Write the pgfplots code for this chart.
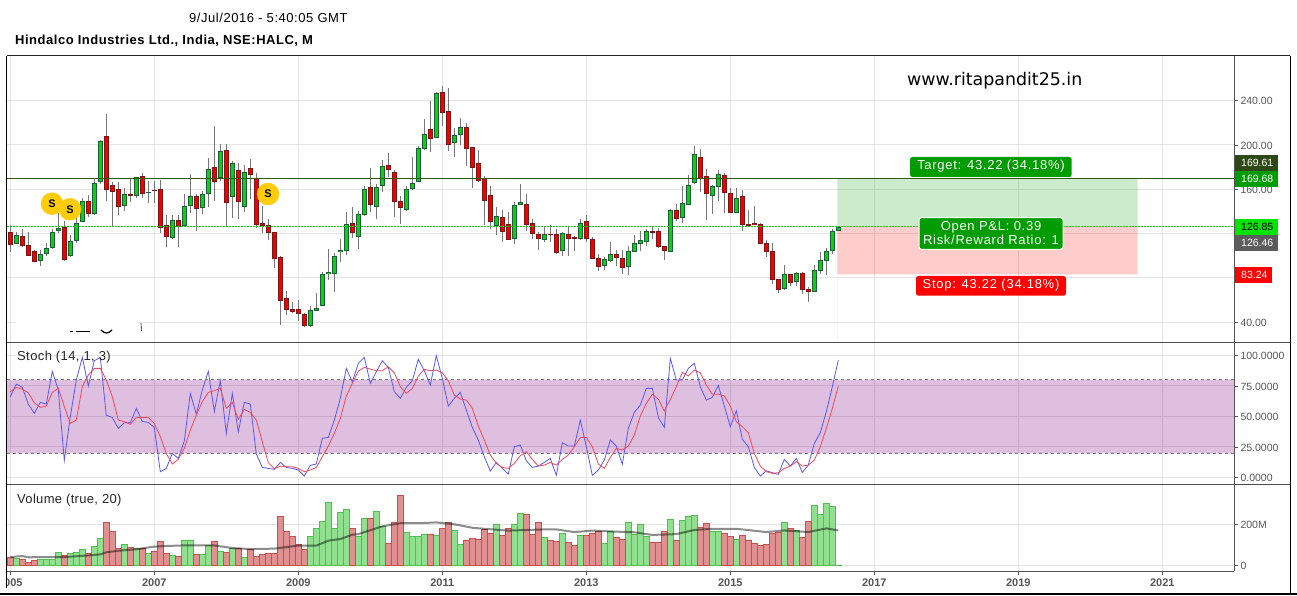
\documentclass[border=0pt]{standalone}
\usepackage{fontspec}
\setmainfont{Liberation Sans}
\newfontfamily\webfont{DejaVu Sans}
\usepackage{pgfplots}
\usepackage{pgfplotstable}
\pgfplotsset{compat=1.18}

\definecolor{gridc}{HTML}{E4E4E4}
\definecolor{tickc}{HTML}{555555}
\definecolor{wickc}{HTML}{777777}
\definecolor{upfill}{HTML}{0CD00C}
\definecolor{upedge}{HTML}{1C5E3C}
\definecolor{downfill}{HTML}{F00000}
\definecolor{downedge}{HTML}{7A1616}
\definecolor{tgreen}{HTML}{2F5A00}
\definecolor{boxgreen}{HTML}{009C00}
\definecolor{volup}{HTML}{90E090}
\definecolor{volupedge}{HTML}{4CC24C}
\definecolor{voldown}{HTML}{E09090}
\definecolor{voldownedge}{HTML}{CF4C4C}
\definecolor{tagdark}{HTML}{2D4A16}
\definecolor{tagbright}{HTML}{00E400}
\definecolor{taggrey}{HTML}{5C5C5C}
\definecolor{bandc}{HTML}{800080}
\definecolor{gold}{HTML}{FFCC0A}
\definecolor{stochblue}{HTML}{5858F4}
\definecolor{stochred}{HTML}{F2475A}

% monthly candles, i = months since Jan 2005
\pgfplotstableread{
i o h l c
1 111.3 121.2 110.7 118.5
5 95.9 105.2 91.1 101.3
6 102.2 111.6 100.1 106.7
7 107.6 124.2 105.8 121.2
8 123.0 138.3 120.9 124.8
10 100.4 118.8 99.2 113.1
11 114.0 135.3 111.9 129.3
12 131.1 151.9 130.5 149.2
14 138.3 169.9 136.8 165.4
15 167.2 204.5 164.8 203.3
19 145.5 160.9 140.7 155.5
21 154.6 171.4 152.2 170.8
23 157.0 167.2 147.4 157.3
27 116.7 136.8 114.9 132.0
29 127.5 155.5 126.9 144.6
30 145.5 173.8 138.9 153.7
32 143.7 158.5 137.7 155.5
33 156.4 188.3 144.3 178.0
35 170.8 200.9 167.8 194.3
37 153.7 185.6 133.8 183.4
39 144.6 181.6 139.8 175.3
50 37.3 54.7 36.1 50.8
51 50.8 66.1 50.5 52.6
52 55.3 85.1 54.7 83.3
53 83.9 105.8 78.2 85.1
54 84.2 102.8 67.3 99.5
55 103.7 114.9 94.7 105.0
56 105.0 139.2 100.7 128.4
58 117.6 140.4 106.1 137.4
59 137.4 163.0 135.9 160.0
61 144.6 164.8 133.5 161.8
62 163.6 186.5 157.9 180.7
66 141.9 163.0 140.7 160.0
67 160.9 189.2 159.4 165.4
68 167.2 199.1 166.9 197.0
69 197.0 223.5 195.5 209.6
71 206.9 247.8 206.6 246.6
74 202.4 215.0 189.5 208.7
75 209.6 224.1 200.3 215.9
81 127.2 144.0 118.8 135.6
84 115.8 148.3 110.7 145.5
85 146.4 164.8 146.1 148.3
89 114.9 126.6 112.5 119.4
92 105.0 121.2 99.8 120.3
95 115.8 133.2 114.3 129.3
99 91.4 99.2 87.2 96.8
100 95.9 112.5 94.4 101.3
103 90.4 108.8 82.6 104.0
104 104.0 118.4 103.4 111.2
105 111.2 122.0 104.6 113.9
106 113.0 124.1 108.8 122.0
110 104.0 141.9 103.7 141.0
112 134.7 162.9 129.9 147.3
113 146.4 172.6 146.1 163.5
114 166.2 199.0 165.0 191.5
117 154.5 163.5 137.7 162.6
118 162.6 177.1 149.4 173.5
121 139.2 160.8 138.9 151.8
129 70.6 91.6 69.1 83.2
131 76.9 85.0 72.7 84.1
134 67.9 91.3 67.6 86.8
135 86.8 103.4 83.8 95.9
136 95.9 106.7 82.6 104.0
137 104.9 124.1 101.6 122.0
138 122.9 126.8 122.3 125.9
}\upcandles

\pgfplotstableread{
i o h l c
0 121.2 127.8 103.7 110.4
2 117.6 124.2 108.3 109.2
3 109.5 121.2 99.8 100.4
4 104.0 105.2 94.4 95.0
9 125.7 131.1 95.6 96.8
13 149.2 154.9 135.3 138.3
16 207.8 228.0 149.8 160.0
17 163.6 166.9 125.7 158.2
18 160.0 166.9 136.8 144.6
20 155.5 169.9 148.9 154.6
22 171.7 174.4 152.5 156.4
24 159.1 167.8 148.0 158.8
25 160.0 168.4 120.9 125.7
26 127.5 136.8 108.3 117.6
28 132.0 136.8 108.3 126.6
31 153.7 155.5 122.7 142.8
34 179.8 217.1 149.8 167.2
36 195.2 200.9 126.3 148.3
38 177.1 183.4 133.5 149.2
40 178.9 187.4 151.0 173.5
41 169.9 174.4 125.4 128.4
42 129.3 144.9 120.3 127.5
43 127.5 133.2 114.3 121.2
44 121.2 121.2 89.0 97.7
45 98.6 99.8 37.9 59.8
46 61.6 68.2 46.6 51.7
47 51.7 58.3 48.1 49.9
48 51.7 60.1 41.5 48.1
49 47.2 48.7 36.1 37.3
57 129.3 144.0 116.4 121.2
60 161.8 179.2 139.5 146.4
63 181.6 192.8 170.8 178.0
64 175.3 177.1 135.3 149.2
65 149.2 154.0 128.7 143.7
70 214.1 239.7 193.7 206.0
72 247.5 253.2 217.1 229.5
73 230.4 251.4 194.9 200.6
76 215.9 219.8 181.0 197.0
77 197.9 197.9 161.2 179.8
78 183.4 195.5 166.6 168.1
79 169.9 171.7 127.8 150.1
80 154.6 163.0 124.2 131.1
82 134.7 141.0 112.5 122.1
83 128.4 139.2 114.3 114.9
86 146.4 155.5 122.4 128.4
87 129.3 133.2 115.2 120.3
88 119.4 121.2 105.2 115.8
90 119.4 127.8 112.5 119.1
91 119.4 124.2 101.6 102.8
93 119.4 126.6 99.8 115.8
94 116.1 117.6 104.6 115.5
96 131.1 136.8 112.8 115.8
97 114.9 116.7 97.4 97.7
98 97.7 101.6 86.3 90.5
101 101.3 105.2 90.8 98.6
102 97.7 105.2 83.5 89.5
107 122.0 125.9 115.1 121.7
108 122.0 124.7 106.7 108.5
109 108.5 108.5 96.2 104.9
111 141.0 146.7 131.7 133.8
115 188.8 196.3 157.5 169.9
116 171.7 178.0 132.3 156.3
119 172.6 174.4 138.6 157.2
120 156.3 160.8 138.6 139.2
122 153.6 159.3 122.3 128.3
123 128.3 141.3 126.8 127.4
124 129.2 144.9 127.4 128.0
125 128.3 129.2 110.6 111.2
126 111.2 113.9 99.2 104.0
127 104.0 111.5 74.5 78.7
128 78.7 78.7 66.7 69.7
130 83.2 83.2 72.7 76.0
132 84.1 85.0 65.5 69.7
133 69.7 71.5 58.3 67.9
}\downcandles

% candle pieces drawn as thick error bars
\newcommand{\wicks}[1]{%
  \addplot[draw=none, mark=none, forget plot, error bars/.cd, y dir=both, y explicit, error mark=none,
    error bar style={draw=wickc, line width=1pt}]
    table[x=i, y expr={(\thisrow{h}+\thisrow{l})/2}, y error expr={(\thisrow{h}-\thisrow{l})/2}] {#1};}
\newcommand{\bodies}[3]{%
  \addplot[draw=none, mark=none, forget plot, error bars/.cd, y dir=both, y explicit, error mark=none,
    error bar style={draw=#2, line width=5pt}]
    table[x=i, y expr={(\thisrow{o}+\thisrow{c})/2}, y error expr={abs(\thisrow{o}-\thisrow{c})/2+0.5}] {#1};
  \addplot[draw=none, mark=none, forget plot, error bars/.cd, y dir=both, y explicit, error mark=none,
    error bar style={draw=#3, line width=3pt}]
    table[x=i, y expr={(\thisrow{o}+\thisrow{c})/2}, y error expr={max(abs(\thisrow{o}-\thisrow{c})/2-0.5,0)}] {#1};}

\pgfplotsset{panel/.style={
  scale only axis, width=1227pt,
  xmin=-0.55, xmax=203.95,
  anchor=south west,
  axis line style={draw=none},
  xtick={0,24,...,192},
  xticklabels={},
  xmajorgrids, ymajorgrids,
  grid style={gridc, line width=1pt},
  tick align=outside,
  ytick pos=right,
  xtick pos=bottom,
  major tick length=4pt,
  ytick style={draw=tickc, line width=0.8pt},
  xtick style={draw=none},
  yticklabel style={font=\fontsize{10.5}{12}\selectfont, text=tickc, anchor=west, xshift=-1pt, yshift=-0.5pt},
  xticklabel style={font=\bfseries\fontsize{11}{13}\selectfont, text=tickc},
}}

\begin{document}
\begin{tikzpicture}
\useasboundingbox (0,0) rectangle (1297pt,595pt);

% price panel
\begin{axis}[panel, at={(7pt,253pt)}, height=286pt,
  ymin=22.2, ymax=280.3,
  ytick={40,80,120,160,200,240},
  yticklabels={40.00,,,160.00,200.00,240.00}]
\addplot[fill=green!60!black, fill opacity=0.2, draw=none, forget plot] coordinates {(137.83,126.85)(187.9,126.85)(187.9,169.68)(137.83,169.68)} \closedcycle;
\addplot[fill=red, fill opacity=0.2, draw=none, forget plot] coordinates {(137.83,83.24)(187.9,83.24)(187.9,126.85)(137.83,126.85)} \closedcycle;
\wicks{\upcandles}
\wicks{\downcandles}
\bodies{\upcandles}{upedge}{upfill}
\bodies{\downcandles}{downedge}{downfill}
\addplot[tgreen, line width=1.2pt, forget plot] coordinates {(-0.55,169.68)(203.95,169.68)};
\addplot[green!85!black, line width=1pt, dash pattern=on 2pt off 1pt, forget plot] coordinates {(-0.55,126.85)(203.95,126.85)};
\addplot[only marks, mark=*, mark size=11pt, mark options={fill=gold, draw=gold},
  point meta=explicit symbolic, nodes near coords,
  every node near coord/.style={anchor=center, font=\bfseries\fontsize{11}{12}\selectfont, text=black},
  forget plot] coordinates {(6.95,147.0)[S](9.95,142.0)[S](42.95,155.8)[S]};
\end{axis}

% stochastic panel
\begin{axis}[panel, at={(7pt,110.5pt)}, height=142.5pt,
  ymin=-5.8, ymax=111,
  ytick={0,25,50,75,100},
  yticklabels={0.0000,25.0000,50.0000,75.0000,100.0000}]
\addplot[fill=bandc, fill opacity=0.25, draw=none, forget plot] coordinates {(-0.55,20)(203.95,20)(203.95,80)(-0.55,80)} \closedcycle;
\addplot[black!55, line width=0.8pt, dashed, forget plot] coordinates {(-0.55,80)(203.95,80)};
\addplot[black!55, line width=0.8pt, dashed, forget plot] coordinates {(-0.55,20)(203.95,20)};
\addplot[stochblue, line width=0.8pt, forget plot] coordinates {
(0,66.2)(1,76.5)(2,73.8)(3,60.1)(4,52.5)(5,61.5)(6,60.1)(7,86.9)(8,71.6)(9,14.0)
(10,49.8)(11,79.8)(12,98.4)(13,74.9)(14,95.7)(15,98.4)(16,50.9)(17,49.2)(18,40.2)(19,44.8)
(20,44.8)(21,56.6)(22,45.9)(23,45.1)(24,41.0)(25,4.7)(26,7.4)(27,19.7)(28,15.6)(29,29.8)
(30,68.9)(31,51.9)(32,71.6)(33,86.9)(34,53.9)(35,79.3)(36,36.1)(37,68.9)(38,37.5)(39,61.5)
(40,60.1)(41,19.2)(42,8.2)(43,7.4)(44,6.6)(45,12.3)(46,8.2)(47,7.4)(48,6.1)(49,1.1)
(50,9.9)(51,11.0)(52,32.0)(53,32.8)(54,47.0)(55,64.8)(56,89.4)(57,78.4)(58,93.5)(59,98.4)
(60,77.1)(61,86.6)(62,95.7)(63,90.2)(64,70.3)(65,64.8)(66,73.8)(67,79.3)(68,96.8)(69,87.5)
(70,75.7)(71,99.8)(72,81.2)(73,58.5)(74,64.8)(75,69.7)(76,55.2)(77,41.0)(78,30.6)(79,17.0)
(80,5.2)(81,12.3)(82,7.4)(83,2.8)(84,25.2)(85,26.5)(86,13.7)(87,8.2)(88,9.3)(89,12.3)
(90,15.6)(91,1.7)(92,28.5)(93,25.7)(94,25.7)(95,47.0)(96,25.2)(97,1.7)(98,6.1)(99,14.2)
(100,30.6)(101,25.7)(102,10.7)(103,40.2)(104,53.3)(105,59.3)(106,73.0)(107,73.0)(108,49.2)(109,41.0)
(110,97.6)(111,79.8)(112,79.8)(113,89.4)(114,93.5)(115,74.4)(116,63.4)(117,65.6)(118,75.4)(119,58.5)
(120,41.6)(121,54.7)(122,31.2)(123,25.2)(124,8.2)(125,1.1)(126,5.5)(127,3.9)(128,2.5)(129,14.8)
(130,9.3)(131,15.6)(132,4.1)(133,10.2)(134,27.9)(135,36.7)(136,53.9)(137,74.4)(138,96.2)};
\addplot[stochred, line width=0.8pt, forget plot] coordinates {
(0,70.3)(1,73.8)(2,72.2)(3,69.4)(4,61.2)(5,57.4)(6,58.5)(7,69.7)(8,73.0)(9,58.0)
(10,44.3)(11,47.0)(12,74.4)(13,83.9)(14,89.4)(15,89.4)(16,79.8)(17,66.2)(18,47.0)(19,45.7)
(20,43.5)(21,49.2)(22,49.2)(23,49.2)(24,44.3)(25,33.4)(26,19.7)(27,11.0)(28,14.8)(29,23.8)
(30,38.8)(31,51.1)(32,62.1)(33,69.7)(34,71.1)(35,73.0)(36,56.6)(37,61.5)(38,47.6)(39,55.8)
(40,53.3)(41,47.0)(42,29.3)(43,12.1)(44,7.1)(45,9.3)(46,8.8)(47,8.8)(48,7.4)(49,4.7)
(50,6.1)(51,8.2)(52,17.0)(53,25.7)(54,36.1)(55,48.4)(56,66.7)(57,77.1)(58,87.2)(59,90.2)
(60,88.8)(61,87.5)(62,87.5)(63,90.7)(64,85.8)(65,74.4)(66,68.9)(67,73.0)(68,83.1)(69,88.6)
(70,87.5)(71,88.0)(72,85.8)(73,79.3)(74,67.5)(75,64.2)(76,63.4)(77,56.6)(78,42.1)(79,30.6)
(80,18.3)(81,11.5)(82,8.2)(83,7.4)(84,11.5)(85,17.8)(86,21.1)(87,14.8)(88,9.3)(89,10.1)
(90,12.3)(91,10.1)(92,14.8)(93,18.3)(94,25.2)(95,32.6)(96,32.8)(97,25.2)(98,11.0)(99,7.4)
(100,16.4)(101,23.8)(102,22.4)(103,25.7)(104,34.7)(105,50.3)(106,60.7)(107,68.1)(108,64.2)(109,54.4)
(110,64.0)(111,74.4)(112,86.1)(113,83.1)(114,88.0)(115,85.8)(116,75.7)(117,68.1)(118,68.3)(119,66.7)
(120,58.5)(121,45.7)(122,41.6)(123,36.7)(124,19.7)(125,9.3)(126,4.7)(127,3.3)(128,3.9)(129,7.4)
(130,9.3)(131,12.9)(132,9.3)(133,10.1)(134,14.2)(135,25.2)(136,40.2)(137,56.6)(138,74.9)};
\end{axis}

% volume panel
\begin{axis}[panel, at={(7pt,24pt)}, height=86.5pt,
  ymin=-26, ymax=396,
  ytick={0,200},
  yticklabels={0,200M},
  xticklabels={2005,2007,2009,2011,2013,2015,2017,2019,2021}]
\addplot[ybar, bar width=6pt, bar shift=0pt, fill=volup, draw=volupedge, line width=0.7pt, forget plot] coordinates {
(1,36)(5,31)(6,31)(7,31)(8,65)(10,60)(11,65)(12,80)(14,94)(15,133)(19,104)(21,85)(23,60)(27,50)
(29,124)(30,124)(32,55)(33,99)(35,70)(37,85)(39,41)(50,143)(51,182)(52,216)(53,309)(54,182)(55,260)
(56,275)(58,143)(59,231)(61,265)(62,192)(66,163)(67,143)(68,143)(69,153)(71,148)(74,172)(75,104)
(81,202)(84,202)(85,255)(89,138)(92,158)(95,148)(99,109)(100,167)(103,211)(104,153)(105,202)(106,143)
(110,226)(112,221)(113,241)(114,246)(117,167)(118,167)(121,128)(129,211)(131,172)(134,294)(135,250)
(136,304)(137,289)(138,2)};
\addplot[ybar, bar width=6pt, bar shift=0pt, fill=voldown, draw=voldownedge, line width=0.7pt, forget plot] coordinates {
(0,42)(2,31)(3,16)(4,26)(9,50)(13,60)(16,211)(17,167)(18,85)(20,89)(22,85)(24,70)(25,119)(26,60)
(28,46)(31,55)(34,119)(36,65)(38,85)(40,80)(41,46)(42,55)(43,60)(44,60)(45,241)(46,167)(47,143)
(48,104)(49,80)(57,182)(60,231)(63,109)(64,211)(65,343)(70,153)(72,182)(73,211)(76,124)(77,133)
(78,128)(79,177)(80,158)(82,148)(83,182)(86,250)(87,153)(88,211)(90,124)(91,119)(93,114)(94,99)
(96,148)(97,158)(98,167)(101,138)(102,128)(107,114)(108,114)(109,167)(111,124)(115,187)(116,207)
(119,158)(120,143)(122,148)(123,124)(124,109)(125,99)(126,104)(127,158)(128,163)(130,182)(132,138)(133,216)};
\addplot[black, opacity=0.45, line width=2pt, forget plot] coordinates {
(0,42)(2,47)(3,41)(9,42)(13,50)(15,55)(16,65)(18,73)(21,80)(24,93)(26,96)(29,99)(34,99)(37,86)(40,81)
(44,83)(48,98)(51,98)(53,122)(55,130)(57,151)(58,154)(62,192)(65,207)(68,207)(71,211)(74,202)(77,185)
(79,180)(83,171)(89,177)(91,177)(94,164)(97,171)(101,166)(104,163)(107,150)(111,154)(114,174)(117,180)
(121,180)(126,164)(129,172)(133,164)(136,182)(138,172)};
\end{axis}

% page furniture, in reference pixels
\begin{scope}[x=1pt, y=-1pt, yshift=595pt]
  \fill[white] (0,572) rectangle (6.7,593);
  \draw[black, line width=1.4pt] (6.7,56) -- (6.7,588);
  \draw[black!85, line width=1pt] (7,56) -- (1290,56);
  \draw[black!70, line width=1pt] (7,342) -- (1290,342);
  \draw[black!70, line width=1pt] (7,484.5) -- (1290,484.5);
  \draw[black, line width=1pt] (1290,56) -- (1290,593);
  \draw[tickc, line width=1pt] (1234,56) -- (1234,571);
  \draw[tickc, line width=1pt] (7,571) -- (1234,571);
  \foreach \tx in {10.3,154.3,...,1162.3} \draw[tickc, line width=0.8pt] (\tx,571) -- (\tx,575);
  \fill[black] (0,593) rectangle (1297,595);

  % torn text remains over the last gridline
  \fill[white] (16,321) rectangle (137,324);
  \draw[black, line width=0.7pt] (70,331.3) -- (73,331.3) (76,331) -- (90,331);
  \draw[black, line width=1.3pt] (101,330) .. controls (105,334) and (108,334) .. (112,330);
  \draw[black, line width=0.6pt] (141,323) -- (141.5,331);

  \tikzset{
    hd/.style={anchor=west, inner sep=0pt},
    boxtxt/.style={text=white, inner sep=0pt, font=\fontsize{13}{15}\selectfont\addfontfeatures{LetterSpace=5.6}},
    tag/.style={anchor=west, inner sep=0pt, font=\fontsize{10.5}{12}\selectfont},
  }
  \node[hd, font=\fontsize{13}{15}\selectfont\addfontfeatures{LetterSpace=4.2}] at (189,18) {9/Jul/2016 - 5:40:05 GMT};
  \node[hd, font=\bfseries\fontsize{13}{15}\selectfont\addfontfeatures{LetterSpace=4}] at (15,41) {Hindalco Industries Ltd., India, NSE:HALC, M};
  \node[hd, font=\webfont\fontsize{17.4}{19}\selectfont] at (907,81) {www.ritapandit25.in};
  \node[hd, text=black!85, font=\fontsize{13}{15}\selectfont\addfontfeatures{LetterSpace=3}] at (17,357) {Stoch (14, 1, 3)};
  \node[hd, text=black!85, font=\fontsize{13}{15}\selectfont\addfontfeatures{LetterSpace=2.5}] at (17,500.5) {Volume (true, 20)};

  % right hand price tags
  \fill[tagdark] (1234.5,155) rectangle (1278,171);
  \node[tag, text=white] at (1241,163) {169.61};
  \fill[boxgreen] (1234.5,171) rectangle (1278,187);
  \node[tag, text=white] at (1241,179) {169.68};
  \fill[tagbright] (1234.5,219) rectangle (1278,235);
  \node[tag, text=black] at (1241,227) {126.85};
  \fill[taggrey] (1234.5,235) rectangle (1278,251);
  \node[tag, text=white] at (1241,243) {126.46};
  \fill[red] (1234.5,267) rectangle (1272,283);
  \node[tag, text=white] at (1241,275) {83.24};

  % trade boxes
  \fill[boxgreen, rounded corners=2.5pt] (910,157) rectangle (1071.7,177);
  \node[boxtxt] at (991,166.5) {Target: 43.22 (34.18\%)};
  \filldraw[fill=boxgreen, draw=white, line width=1pt, rounded corners=2.5pt] (919,217.7) rectangle (1063,249.3);
  \node[boxtxt] at (991,227) {Open P\&L: 0.39};
  \node[boxtxt] at (991,239.5) {Risk/Reward Ratio: 1};
  \fill[red, rounded corners=2.5pt] (916,276) rectangle (1066,295.7);
  \node[boxtxt] at (991,285.5) {Stop: 43.22 (34.18\%)};
\end{scope}
\end{tikzpicture}
\end{document}
